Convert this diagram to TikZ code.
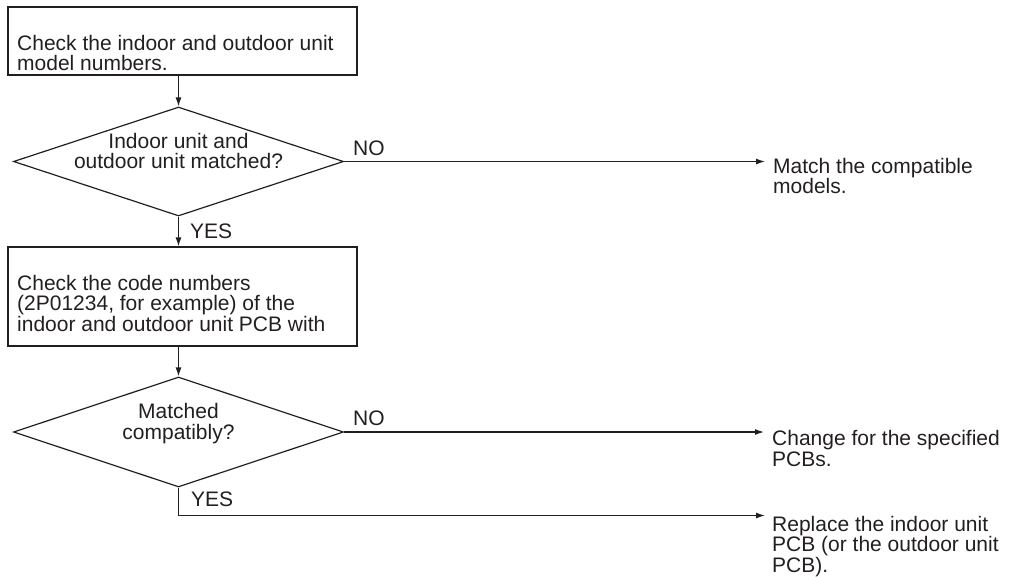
\documentclass[tikz,border=0pt]{standalone}
\usepackage{fontspec}
\setmainfont{Liberation Sans}
\usetikzlibrary{arrows.meta,shapes.geometric}
\definecolor{ink}{HTML}{231F20}

\begin{document}
\begin{tikzpicture}[x=1pt,y=-1pt,>=Latex,
    every node/.style={text=ink,font=\fontsize{21}{20.5}\selectfont,inner sep=0pt},
    stepbox/.style={draw=ink,line width=1.2pt,rectangle},
    askbox/.style={draw=ink,line width=1.2pt,diamond},
    flow/.style={draw=ink,line width=1.2pt,-{Latex[length=9pt,width=6pt]}},
    steptext/.style={align=left,anchor=base west},
    asktext/.style={align=center,anchor=base}]
  \useasboundingbox (0,0) rectangle (1012,576);

  % check of the model numbers
  \node[stepbox,minimum width=349pt,minimum height=68pt] (chk1) at (182.5,41) {};
  \node[steptext] (chk1txt) at (17,70.5) {Check the indoor and outdoor unit\\model numbers.};

  \node[askbox,minimum width=330pt,minimum height=109pt] (ask1) at (178.5,161.5) {};
  \node[asktext] (ask1txt) at (178.5,168.5) {Indoor unit and\\outdoor unit matched?};

  \node[steptext] (act1) at (773,193.5) {Match the compatible\\models.};
  \node[anchor=base west] (no1) at (353,155) {NO};

  % check of the PCB code numbers
  \node[stepbox,minimum width=349pt,minimum height=99pt] (chk2) at (182.5,296.5) {};
  \node[steptext] (chk2txt) at (17,331) {Check the code numbers\\(2P01234, for example) of the\\indoor and outdoor unit PCB with};
  \node[anchor=base west] (yes1) at (190,238) {YES};

  \node[askbox,minimum width=330pt,minimum height=110pt] (ask2) at (178.5,432) {};
  \node[asktext] (ask2txt) at (178.5,439) {Matched\\compatibly?};

  \node[steptext] (act2) at (772,466) {Change for the specified\\PCBs.};
  \node[anchor=base west] (no2) at (353,425) {NO};

  \node[anchor=base west] (yes2) at (191,506) {YES};
  \coordinate (yesrow) at (765,515.5);
  \node[steptext] (act3) at (772,572) {Replace the indoor unit\\PCB (or the outdoor unit\\PCB).};

  % connectors
  \draw[flow] (ask1.north |- chk1.south) -- (ask1.north);
  \draw[flow] (ask1.east) -- ([xshift=-8pt]act1.west |- ask1.east);
  \draw[flow] (ask1.south) -- (ask1.south |- chk2.north);
  \draw[flow] (ask2.north |- chk2.south) -- (ask2.north);
  \draw[flow] (ask2.east) -- ([xshift=-8pt]act2.west |- ask2.east);
  \draw[flow] (ask2.south) -- (ask2.south |- yesrow) -- (yesrow);
\end{tikzpicture}
\end{document}
